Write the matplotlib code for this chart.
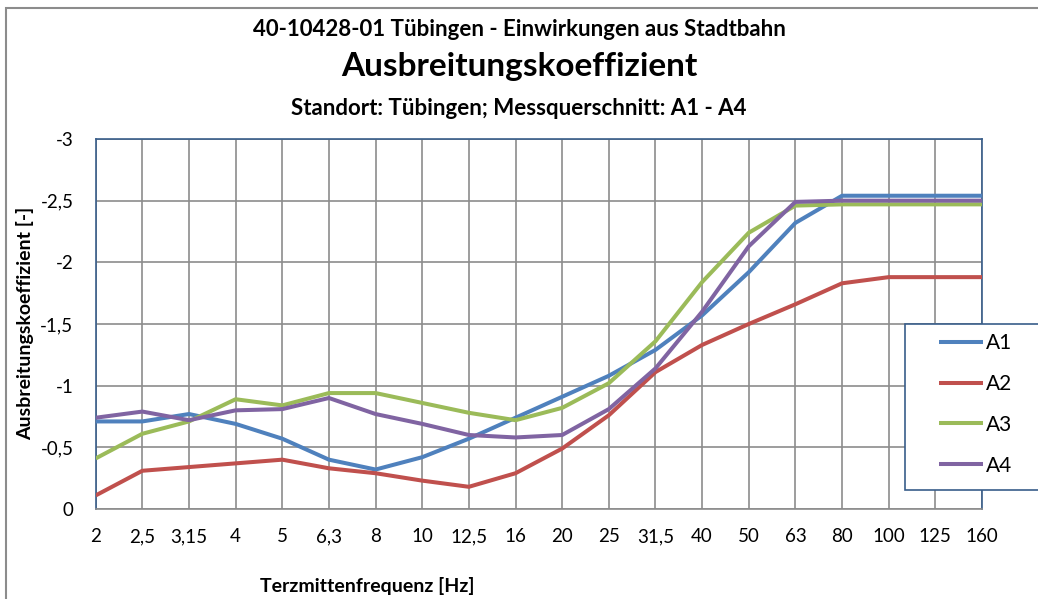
import matplotlib.pyplot as plt
from matplotlib.patches import Rectangle

plt.rcParams['font.family'] = ['Lato', 'DejaVu Sans']

freqs = ['2', '2,5', '3,15', '4', '5', '6,3', '8', '10', '12,5', '16',
         '20', '25', '31,5', '40', '50', '63', '80', '100', '125', '160']

a1 = [-0.71, -0.71, -0.77, -0.69, -0.57, -0.40, -0.32, -0.42, -0.57, -0.74,
      -0.91, -1.08, -1.29, -1.57, -1.92, -2.32, -2.54, -2.54, -2.54, -2.54]
a2 = [-0.11, -0.31, -0.34, -0.37, -0.40, -0.33, -0.29, -0.23, -0.18, -0.29,
      -0.49, -0.76, -1.11, -1.33, -1.50, -1.66, -1.83, -1.88, -1.88, -1.88]
a3 = [-0.41, -0.61, -0.71, -0.89, -0.84, -0.94, -0.94, -0.86, -0.78, -0.72,
      -0.82, -1.02, -1.36, -1.84, -2.24, -2.46, -2.47, -2.47, -2.47, -2.47]
a4 = [-0.74, -0.79, -0.72, -0.80, -0.81, -0.90, -0.77, -0.69, -0.60, -0.58,
      -0.60, -0.81, -1.14, -1.60, -2.13, -2.49, -2.50, -2.50, -2.50, -2.50]

series = {'A1': a1, 'A2': a2, 'A3': a3, 'A4': a4}
colors = {'A1': '#4F81BD', 'A2': '#C0504D', 'A3': '#9BBB59', 'A4': '#8064A2'}

yticks = [0, -0.5, -1, -1.5, -2, -2.5, -3]
ylabels = ['0', '-0,5', '-1', '-1,5', '-2', '-2,5', '-3']

W, H = 1038, 599


def main():
    fig = plt.figure(figsize=(W / 100, H / 100), dpi=100)
    ax = fig.add_axes([95.7 / W, 1 - 509 / H, (982 - 95.7) / W, (509 - 139) / H])

    x = list(range(len(freqs)))
    for name, vals in series.items():
        ax.plot(x, vals, color=colors[name], lw=2.9, label=name,
                solid_joinstyle='round', solid_capstyle='butt', zorder=3)

    ax.set_xlim(0, len(freqs) - 1)
    ax.set_ylim(0, -3)
    ax.set_xticks(x)
    ax.set_xticklabels(freqs)
    ax.set_yticks(yticks)
    ax.set_yticklabels(ylabels)
    ax.tick_params(axis='x', length=0, pad=14, labelsize=13.5)
    ax.tick_params(axis='y', length=0, pad=16, labelsize=13.5)
    ax.grid(True, color='#8C8C8C', lw=1.2)
    ax.set_axisbelow(True)
    for s in ['top', 'right', 'left']:
        ax.spines[s].set_color('#385D8A')
        ax.spines[s].set_linewidth(1.2)
    ax.spines['bottom'].set_color('#8C8C8C')
    ax.spines['bottom'].set_linewidth(1.2)

    # titles
    fig.text(0.5, 1 - 36 / H, '40-10428-01 Tübingen - Einwirkungen aus Stadtbahn',
             ha='center', va='baseline', fontsize=16, fontweight='bold')
    fig.text(0.5, 1 - 76 / H, 'Ausbreitungskoeffizient',
             ha='center', va='baseline', fontsize=24, fontweight='bold')
    fig.text(0.5, 1 - 115 / H, 'Standort: Tübingen; Messquerschnitt: A1 - A4',
             ha='center', va='baseline', fontsize=16, fontweight='bold')
    fig.text(25 / W, 1 - 323.5 / H, 'Ausbreitungskoeffizient [-]', rotation=90,
             ha='center', va='center', fontsize=14, fontweight='bold')
    fig.text(367 / W, 1 - 592 / H, 'Terzmittenfrequenz [Hz]',
             ha='center', va='baseline', fontsize=14, fontweight='bold')

    # legend box (runs off the right edge like in the source)
    fig.patches.append(Rectangle((905 / W, 1 - 490 / H), 200 / W, 166 / H,
                                 transform=fig.transFigure, facecolor='white',
                                 edgecolor='#385D8A', lw=1.2, zorder=5))
    leg = fig.legend(loc='upper left', bbox_to_anchor=(939 / W, 1 - 333 / H),
                     bbox_transform=fig.transFigure, frameon=False,
                     fontsize=15, handlelength=2.1, handletextpad=0.15,
                     labelspacing=1.0, borderpad=0, borderaxespad=0)
    leg.set_zorder(6)

    # outer chart border
    fig.patches.append(Rectangle((6 / W, -0.1), 1.2, 1.1 - 8 / H,
                                 transform=fig.transFigure, facecolor='none',
                                 edgecolor='#8C8C8C', lw=1.5, zorder=0))

    plt.savefig('out.png', dpi=100)


if __name__ == "__main__":
    main()
